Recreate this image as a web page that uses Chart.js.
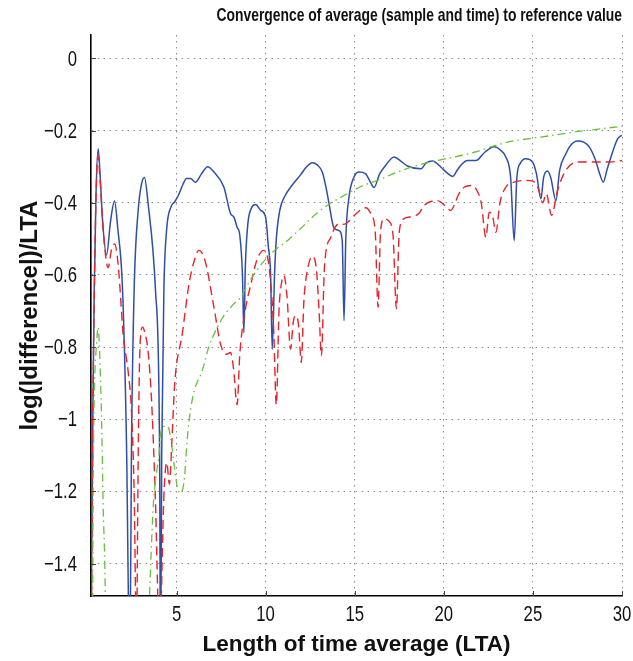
<!DOCTYPE html>
<html>
<head>
<meta charset="utf-8">
<title>LTA convergence</title>
<script src="https://cdn.jsdelivr.net/npm/chart.js@4.4.1/dist/chart.umd.min.js"></script>
<style>
  html, body { margin: 0; padding: 0; background: #fff; }
</style>
</head>
<body>
<canvas id="lta" width="633" height="661"></canvas>
<script>
// sample average (solid blue)
var sampleLta = [0.2, 0.3, 0.38, 0.48, 0.6, 0.72, 0.85, 1.07, 1.3, 1.52, 1.7, 1.97, 2.19, 2.38, 2.47, 2.62, 2.85, 3.05, 3.2, 3.4,
    3.82, 4.05, 4.1, 4.17, 4.29, 4.44, 4.7, 4.89, 5.1, 5.35, 5.56, 5.79, 6.07, 6.4, 6.75, 7.1, 7.66, 8.03, 8.22, 8.4,
    8.55, 8.7, 8.78, 8.86, 9.0, 9.2, 9.44, 9.72, 10.0, 10.15, 10.28, 10.37, 10.5, 10.6, 10.8, 11.1, 11.4, 11.97, 12.3, 12.62,
    12.9, 13.18, 13.4, 13.56, 13.84, 14.12, 14.3, 14.4, 14.5, 14.68, 14.95, 15.24, 15.6, 15.85, 16.08, 16.4, 16.74, 17.21, 17.6, 17.96,
    18.71, 19.0, 19.37, 19.83, 20.2, 20.49, 20.75, 20.96, 21.33, 21.8, 22.3, 22.83, 23.2, 23.48, 23.75, 23.95, 24.1, 24.3, 24.6, 24.98,
    25.2, 25.45, 25.6, 25.82, 26.0, 26.29, 26.5, 26.85, 27.1, 27.51, 27.85, 28.16, 28.5, 28.75, 28.95, 29.15, 29.38, 29.76, 30.0];
var sampleVal = [-1.6, -1.0, -0.65, -0.38, -0.25, -0.33, -0.45, -0.545, -0.45, -0.395, -0.47, -0.64, -1.06, -1.7, -1.09, -0.643, -0.42, -0.345, -0.33, -0.40,
    -0.643, -1.09, -1.7, -1.09, -0.643, -0.477, -0.41, -0.398, -0.38, -0.35, -0.333, -0.333, -0.343, -0.32, -0.30, -0.315, -0.357, -0.43, -0.44, -0.468,
    -0.49, -0.60, -0.76, -0.58, -0.46, -0.415, -0.405, -0.421, -0.44, -0.52, -0.60, -0.806, -0.60, -0.50, -0.42, -0.38, -0.357, -0.322, -0.30, -0.289,
    -0.295, -0.315, -0.36, -0.403, -0.47, -0.477, -0.505, -0.727, -0.50, -0.384, -0.33, -0.315, -0.319, -0.34, -0.358, -0.32, -0.296, -0.273, -0.285, -0.298,
    -0.306, -0.29, -0.284, -0.301, -0.318, -0.327, -0.31, -0.296, -0.283, -0.283, -0.26, -0.245, -0.255, -0.273, -0.33, -0.505, -0.33, -0.29, -0.278, -0.287,
    -0.32, -0.389, -0.33, -0.312, -0.33, -0.394, -0.31, -0.264, -0.242, -0.229, -0.232, -0.245, -0.28, -0.32, -0.343, -0.31, -0.273, -0.222, -0.213];

// time average (dashed red)
var timeLta = [0.22, 0.3, 0.4, 0.5, 0.6, 0.7, 0.85, 0.98, 1.16, 1.35, 1.53, 1.7, 1.81, 2.0, 2.28, 2.47, 2.62, 2.75, 2.85, 2.92,
    2.98, 3.1, 3.22, 3.4, 3.6, 3.8, 4.05, 4.3, 4.45, 4.6, 4.75, 4.9, 5.32, 5.7, 6.0, 6.25, 6.6, 7.1, 7.47, 7.8,
    8.03, 8.2, 8.4, 8.55, 8.85, 9.2, 9.5, 9.9, 10.2, 10.45, 10.6, 10.75, 10.9, 11.03, 11.2, 11.4, 11.55, 11.69, 11.85, 12.0,
    12.15, 12.34, 12.62, 12.85, 13.0, 13.13, 13.3, 13.65, 14.12, 14.4, 14.7, 15.06, 15.62, 15.9, 16.15, 16.31, 16.45, 16.65, 16.9, 17.15,
    17.34, 17.5, 17.77, 18.24, 18.6, 18.9, 19.3, 19.64, 19.83, 20.1, 20.39, 20.6, 20.8, 21.14, 21.61, 21.9, 22.1, 22.36, 22.55, 22.75,
    22.92, 23.15, 23.48, 23.95, 24.6, 25.0, 25.3, 25.55, 25.75, 26.05, 26.38, 26.85, 27.51, 28.63, 29.3, 30.0];
var timeVal = [-1.6, -1.0, -0.6, -0.35, -0.27, -0.33, -0.45, -0.53, -0.58, -0.53, -0.514, -0.56, -0.625, -0.764, -0.866, -0.977, -1.2, -1.6, -1.1, -0.85,
    -0.77, -0.745, -0.76, -0.81, -0.949, -1.2, -1.6, -1.2, -1.12, -1.18, -1.05, -0.9, -0.764, -0.625, -0.56, -0.532, -0.56, -0.69, -0.792, -0.82,
    -0.815, -0.86, -0.96, -0.82, -0.70, -0.62, -0.56, -0.532, -0.58, -0.75, -0.96, -0.70, -0.62, -0.602, -0.66, -0.806, -0.73, -0.713, -0.74, -0.843,
    -0.67, -0.588, -0.549, -0.585, -0.70, -0.824, -0.58, -0.496, -0.458, -0.46, -0.45, -0.431, -0.414, -0.43, -0.48, -0.69, -0.48, -0.444, -0.45, -0.49,
    -0.694, -0.48, -0.444, -0.438, -0.43, -0.407, -0.396, -0.394, -0.398, -0.41, -0.421, -0.405, -0.38, -0.357, -0.352, -0.37, -0.40, -0.496, -0.426, -0.44,
    -0.482, -0.40, -0.357, -0.343, -0.338, -0.34, -0.36, -0.40, -0.375, -0.435, -0.366, -0.31, -0.287, -0.287, -0.287, -0.283];

// reference curve (dash-dot green)
var refLta = [0.29, 0.32, 0.36, 0.42, 0.5, 0.6, 0.69, 0.73, 0.78, 0.84, 0.88, 0.97, 1.05, 3.4, 3.5, 3.6, 3.7, 3.9, 4.0, 4.1,
    4.3, 4.5, 4.7, 4.85, 5.05, 5.25, 5.45, 5.55, 5.65, 5.8, 6.0, 6.44, 6.81, 7.19, 7.66, 8.22, 8.6, 9.0, 9.53, 10.28,
    11.22, 12.0, 12.53, 13.47, 14.4, 15.34, 16.28, 17.4, 18.52, 19.83, 20.96, 21.7, 23.58, 25.45, 27.32, 30.0];
var refVal = [-1.6, -1.2, -1.0, -0.87, -0.8, -0.745, -0.82, -0.884, -0.97, -1.12, -1.235, -1.39, -1.6, -1.6, -1.47, -1.34, -1.235, -1.14, -1.107, -1.04,
    -1.02, -1.02, -1.06, -1.12, -1.19, -1.204, -1.16, -1.088, -1.03, -0.97, -0.92, -0.866, -0.80, -0.755, -0.713, -0.68, -0.662, -0.626, -0.585, -0.542,
    -0.505, -0.47, -0.444, -0.407, -0.38, -0.355, -0.338, -0.315, -0.296, -0.281, -0.269, -0.26, -0.232, -0.218, -0.204, -0.188];

var xTicks = [5, 10, 15, 20, 25, 30];
var yTicks = [-1.4, -1.2, -1, -0.8, -0.6, -0.4, -0.2, 0];

var chartTitle = 'Convergence of average (sample and time) to reference value';
var plain = "'Liberation Sans', Arial, sans-serif";

function pts(xs, ys) {
    return xs.map(function (x, i) { return { x: x, y: ys[i] }; });
}

function fmtY(v) {
    if (Math.abs(v) < 1e-9) return '0';
    var s = Math.abs(v) === 1 ? '1' : Math.abs(v).toFixed(1);
    return (v < 0 ? '\u2212' : '') + s;
}

// squeezed text, like the condensed Helvetica of the old matlab export
function narrowText(ctx, str, x, y, align, sx) {
    ctx.save();
    ctx.translate(x, y);
    ctx.scale(sx, 1);
    ctx.textAlign = align;
    ctx.fillText(str, 0, 0);
    ctx.restore();
}

// inward tick marks, tick labels and the title line
var matlabAxes = {
    id: 'matlabAxes',
    afterDatasetsDraw: function (chart) {
        var ctx = chart.ctx, a = chart.chartArea;
        var xs = chart.scales.x, ys = chart.scales.y;
        ctx.save();
        ctx.strokeStyle = '#444';
        ctx.lineWidth = 1;
        ctx.beginPath();
        xTicks.forEach(function (v) {
            var px = Math.round(xs.getPixelForValue(v)) + 0.5;
            ctx.moveTo(px, a.bottom);
            ctx.lineTo(px, a.bottom - 5);
        });
        yTicks.forEach(function (v) {
            var py = Math.round(ys.getPixelForValue(v)) + 0.5;
            ctx.moveTo(a.left, py);
            ctx.lineTo(a.left + 5, py);
        });
        ctx.stroke();
        ctx.restore();
    },
    afterDraw: function (chart) {
        var ctx = chart.ctx, a = chart.chartArea;
        var xs = chart.scales.x, ys = chart.scales.y;
        ctx.save();
        ctx.fillStyle = '#111';
        ctx.font = '22px ' + plain;
        ctx.textBaseline = 'alphabetic';
        xTicks.forEach(function (v) {
            narrowText(ctx, String(v), xs.getPixelForValue(v), a.bottom + 25, 'center', 0.76);
        });
        ctx.textBaseline = 'middle';
        yTicks.forEach(function (v) {
            narrowText(ctx, fmtY(v), a.left - 14, ys.getPixelForValue(v) + 1, 'right', 0.76);
        });
        ctx.font = 'bold 19px ' + plain;
        ctx.textBaseline = 'alphabetic';
        narrowText(ctx, chartTitle, a.right, 21, 'right', 0.73);
        ctx.restore();
    }
};

var ctx = document.getElementById('lta').getContext('2d');

var chart = new Chart(ctx, {
    type: 'line',
    data: {
        datasets: [{
            data: pts(sampleLta, sampleVal),
            borderColor: '#2e4fa5',
            borderWidth: 1.5,
            order: 3
        }, {
            data: pts(timeLta, timeVal),
            borderColor: '#e8232b',
            borderWidth: 1.4,
            borderDash: [9, 5],
            order: 2
        }, {
            data: pts(refLta, refVal),
            borderColor: '#6abf3c',
            borderWidth: 1.3,
            borderDash: [8, 4, 1.5, 4],
            order: 1
        }]
    },
    options: {
        responsive: false,
        animation: false,
        layout: { padding: { left: 0, right: 11, top: 35, bottom: 0 } },
        elements: {
            point: { radius: 0 },
            line: { cubicInterpolationMode: 'monotone', fill: false }
        },
        plugins: {
            legend: { display: false },
            tooltip: { enabled: false },
            title: { display: false }
        },
        scales: {
            x: {
                type: 'linear',
                min: 0.2,
                max: 30,
                afterBuildTicks: function (s) { s.ticks = xTicks.map(function (v) { return { value: v }; }); },
                afterFit: function (s) { s.height = 65; },
                ticks: { display: false },
                grid: { color: '#8c8c8c', lineWidth: 1, drawTicks: false },
                border: { display: true, color: '#000', width: 1.6, dash: [1.5, 4.5] },
                title: {
                    display: true,
                    text: 'Length of time average (LTA)',
                    color: '#111',
                    font: { family: plain, size: 22.5, weight: 'bold' },
                    padding: { top: 0, bottom: 3 }
                }
            },
            y: {
                type: 'linear',
                min: -1.49,
                max: 0.065,
                afterBuildTicks: function (s) { s.ticks = yTicks.map(function (v) { return { value: v }; }); },
                afterFit: function (s) { s.width = 91; },
                ticks: { display: false },
                grid: { color: '#8c8c8c', lineWidth: 1, drawTicks: false },
                border: { display: true, color: '#000', width: 1.6, dash: [1.5, 4.5] },
                title: {
                    display: true,
                    text: 'log(|difference|)/LTA',
                    color: '#111',
                    font: { family: plain, size: 24, weight: 'bold' },
                    padding: { top: 16, bottom: 0 }
                }
            }
        }
    },
    plugins: [matlabAxes]
});
</script>
</body>
</html>
